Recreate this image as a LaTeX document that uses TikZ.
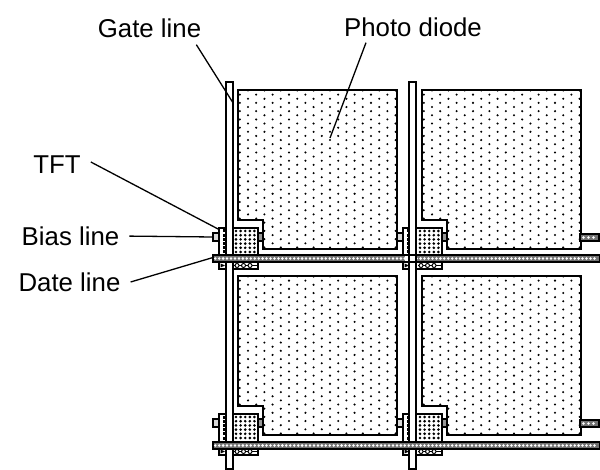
\documentclass[tikz,border=0pt]{standalone}
\usepackage{fontspec}
\setmainfont{Liberation Sans}
\tikzset{
  x=1pt,y=-1pt,
  wire/.style={draw=black,line width=1.5pt,line join=miter},
  leader/.style={draw=black,line width=1.3pt},
  label/.style={inner sep=0pt,font=\fontsize{25.8}{30}\selectfont},
  gateline/.style={wire,fill=white},
  hatch/.style={wire,line width=1.3pt,fill=black!55},
  speck/.style={fill=black,draw=none}
}
\newcommand{\hole}[2]{\fill[white] (#1,#2) circle[radius=1.4];}
\newcommand{\dottedbar}[3]{% x0 x1 y-top, bar height 7
  \draw[hatch] (#1,#3) rectangle (#2,#3+7);
  \pgfmathsetmacro{\xfirst}{#1+2.2}
  \pgfmathsetmacro{\xlast}{#2-2}
  \pgfmathsetmacro{\xnext}{#1+2.2+3.95}
  \pgfmathsetmacro{\ymid}{#3+3.5}
  \foreach \u in {\xfirst,\xnext,...,\xlast}{\hole{\u}{\ymid}}
}
\begin{document}
\begin{tikzpicture}
\useasboundingbox (0,0) rectangle (600,470);
\fill[white] (0,0) rectangle (600,470);
% cells
\foreach \cx/\cy/\lasttab in {0/0/0,184/0/1,0/186/0,184/186/1}{
\begin{scope}[shift={(\cx,\cy)}]
  % photodiode
  \begin{scope}
    \clip (238,90) -- (397,90) -- (397,249) -- (263,249) -- (263,220) -- (238,220) -- cycle;
    \foreach \r in {0,...,39}{
      \pgfmathsetmacro{\yy}{90.5+4.13*\r}
      \pgfmathsetmacro{\xo}{mod(\r,2)==0 ? 248 : 256.2}
      \foreach \c in {-1,...,9}{
        \fill[speck] ({\xo+16.4*\c},\yy) circle[radius=1.15];
      }
    }
  \end{scope}
  \draw[wire] (238,90) -- (397,90) -- (397,249) -- (263,249) -- (263,220) -- (238,220) -- cycle;
  % TFT body
  \draw[wire,fill=white] (219,228) rectangle (258,269);
  \foreach \yy in {231,235.2,...,253}{
    \foreach \xx in {236,240.6,...,255.5}{
      \fill[speck] (\xx,\yy) circle[radius=1.45];
    }
    \fill[speck] (222.5,\yy-1.5) rectangle (226,\yy+1.5);
  }
  \fill[speck] (220.5,263.5) -- (225,265.5) -- (220.5,267.5) -- cycle;
  \draw[black,line width=1pt] (234,265.5) -- (257,265.5);
  \foreach \xx in {237,243.5,250}{\draw[black,fill=white,line width=1pt] (\xx,265.5) circle[radius=2];}
  % side tabs
  \draw[wire,fill=black!15] (213,233) rectangle (219,241);
  \draw[wire,fill=black!40] (258,233) rectangle (263,241);
  \ifnum\lasttab=1
    \draw[hatch] (396,234) rectangle (415,241);
    \foreach \u in {399.5,404.5,...,413}{\hole{\u}{237.5}}
  \fi
\end{scope}
}
% gate lines
\foreach \gx in {226,409}{
  \draw[gateline] (\gx,82) rectangle (\gx+7,469);
}
% data lines
\dottedbar{213}{600}{255}
\dottedbar{213}{600}{442}
% crossing left open where the gate line stays on top
\fill[white] (405,255.8) rectangle (416,261.2);
\draw[wire] (409,251) -- (409,266) (416,251) -- (416,266);
% labels
\node[label] (gate) at (149.5,28) {Gate line};
\node[label] (photo) at (413,27) {Photo diode};
\node[label] (tft) at (57,165) {TFT};
\node[label] (bias) at (70.5,236) {Bias line};
\node[label] (date) at (69.5,282) {Date line};
% leader ends
\coordinate (gatetip) at (232.5,102);
\coordinate (phototip) at (330,138);
\coordinate (tfttip) at (219,229.5);
\coordinate (biastip) at (213,237);
\coordinate (datetip) at (213,257.5);
\draw[leader] ([xshift=-5pt,yshift=-7pt]gate.south east) -- (gatetip);
\draw[leader] ([xshift=-47pt,yshift=-6pt]photo.south) -- (phototip);
\draw[leader] ([xshift=10pt,yshift=3pt]tft.east) -- (tfttip);
\draw[leader,shorten <=10pt] (bias.east) -- (biastip);
\draw[leader] ([xshift=10pt,yshift=0pt]date.east) -- (datetip);
\end{tikzpicture}
\end{document}
